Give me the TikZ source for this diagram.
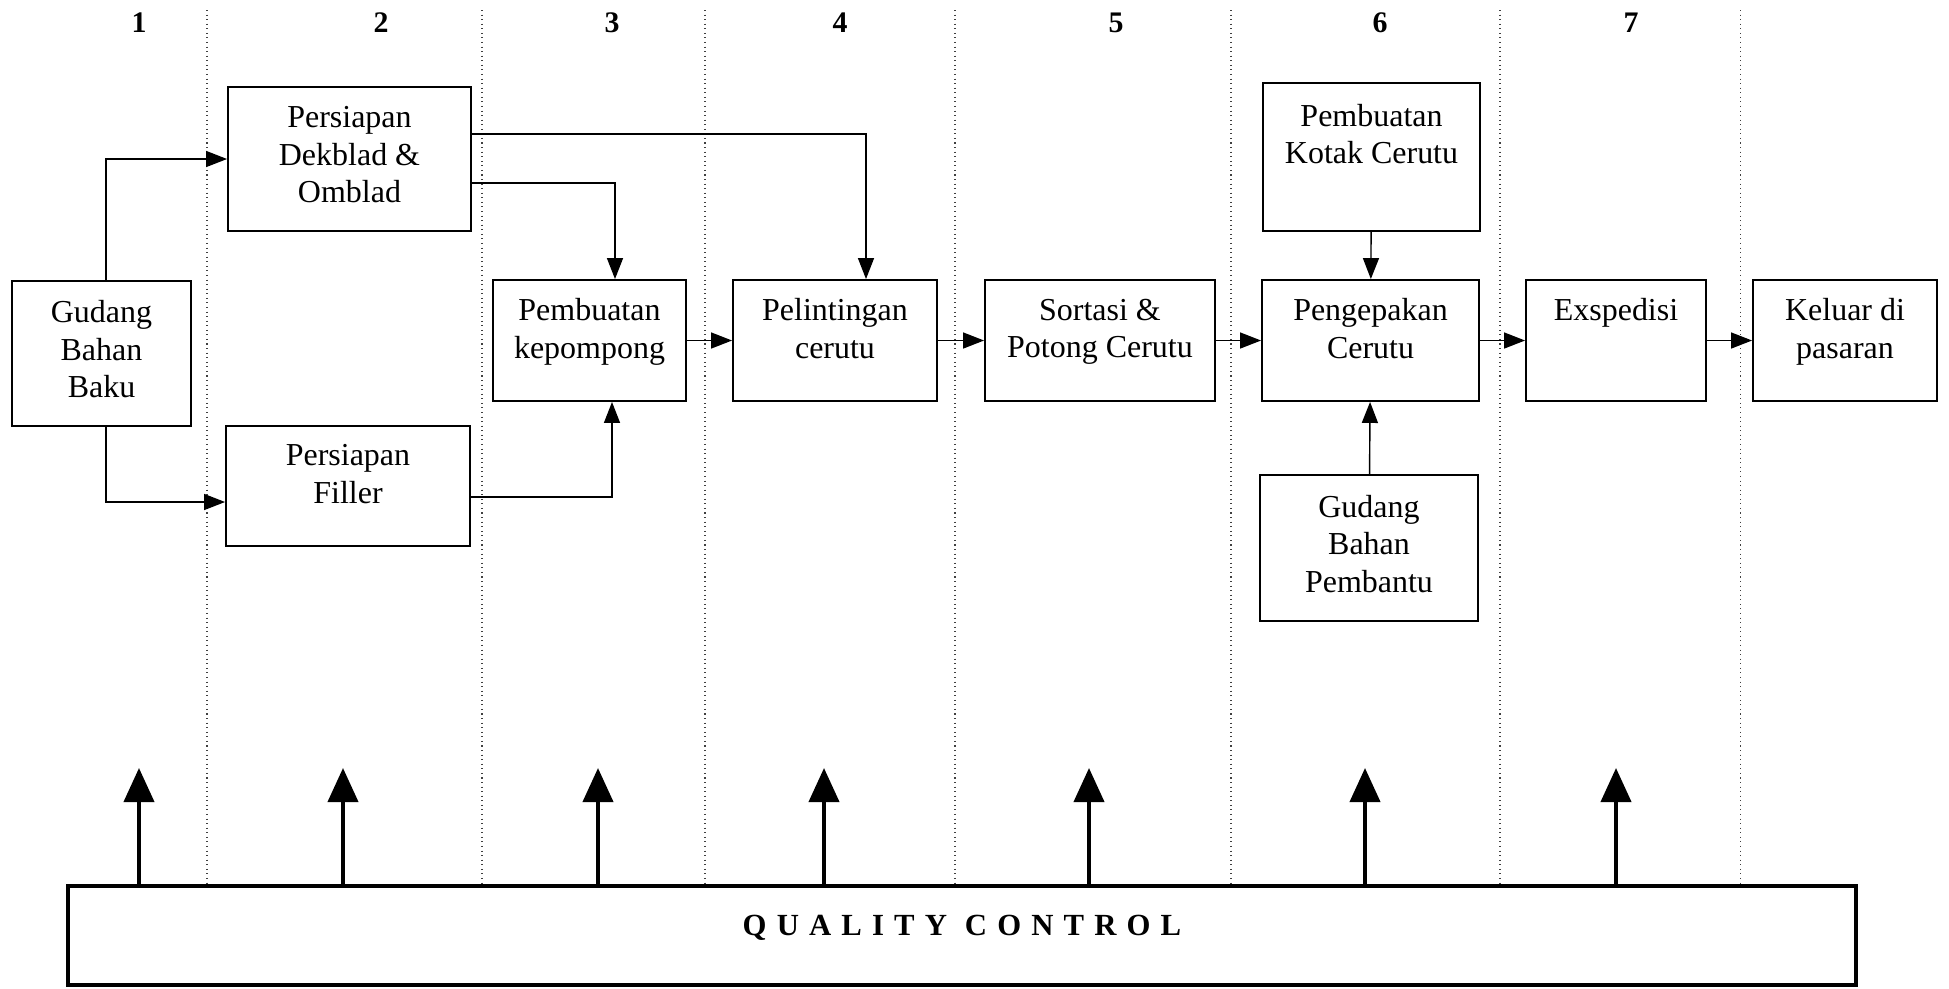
\documentclass[tikz,border=0pt]{standalone}
\usepackage{fontspec}
\setmainfont{Liberation Serif}
\usetikzlibrary{arrows.meta}

\begin{document}
\begin{tikzpicture}[
  x=0.02cm, y=-0.02cm,
  box/.style = {draw, line width=1.1pt, align=center, inner sep=0pt,
    text depth=0.18cm, font=\fontsize{18.2}{21.3}\selectfont},
  pbox/.style = {box, minimum height=2.42cm, text depth=0.48cm},
  arrow/.style = {line width=0.8pt, -{Triangle[length=0.42cm, width=0.32cm]}},
  qcarrow/.style = {line width=2.3pt, -{Triangle[length=0.68cm, width=0.6cm]}},
  sep/.style = {black!75, dotted, line width=0.6pt},
  num/.style = {font=\fontsize{17}{20}\selectfont\bfseries}
]
\useasboundingbox (0,0) rectangle (1949,988);

% Pixel layout (1949 x 988), y grows downwards.
% Main row centre y=340.5, column separators dotted.

% Column separators
\foreach \x in {207,482,705,955,1231,1500,1740}
  \draw [sep] (\x,10) -- (\x,884);

% Column numbers
\foreach \x [count=\i] in {139,381,612,840,1116,1380,1631}
  \node [num] (n\i) at (\x,23) {\i};

% Column 1-2
\node [box, minimum width=3.58cm, minimum height=2.9cm] (gudang) at (101.5,353.5)
  {Gudang\\Bahan\\Baku};
\node [box, minimum width=4.86cm, minimum height=2.88cm] (dekblad) at (349.5,159)
  {Persiapan\\Dekblad \&\\Omblad};
\node [pbox, minimum width=4.88cm, minimum height=2.4cm] (filler) at (348,486)
  {Persiapan\\Filler};

% Main row
\node [pbox, minimum width=3.86cm] (kepompong) at (589.5,340.5)
  {Pembuatan\\kepompong};
\node [pbox, minimum width=4.08cm] (pelintingan) at (835,340.5)
  {Pelintingan\\cerutu};
\node [pbox, minimum width=4.6cm] (sortasi) at (1100,340.5)
  {Sortasi \&\\Potong Cerutu};
\node [pbox, minimum width=4.34cm] (pengepakan) at (1370.5,340.5)
  {Pengepakan\\Cerutu};
\node [pbox, minimum width=3.6cm] (exspedisi) at (1616,340.5)
  {Exspedisi\\~};
\node [pbox, minimum width=3.68cm] (keluar) at (1845,340.5)
  {Keluar di\\pasaran};

% Column 6, above and below
\node [box, minimum width=4.34cm, minimum height=2.96cm] (kotak) at (1371.5,157)
  {Pembuatan\\Kotak Cerutu\\~};
\node [box, minimum width=4.36cm, minimum height=2.92cm] (pembantu) at (1369,548)
  {Gudang\\Bahan\\Pembantu};

% Quality control bar
\node [box, line width=2pt, minimum width=35.76cm, minimum height=1.98cm,
  text depth=0.42cm] (qc) at (962,935.5)
  {\fontsize{17.5}{20}\selectfont\bfseries\addfontfeature{LetterSpace=33}QUALITY CONTROL};

% Arrows — branches
\draw [arrow] ([xshift=0.09cm]gudang.north) |- (dekblad.west);
\draw [arrow] ([xshift=0.09cm]gudang.south) |- ([yshift=-0.32cm]filler.west);
\draw [arrow] ([yshift=0.5cm]dekblad.east) -| ([xshift=0.62cm]pelintingan.north);
\draw [arrow] ([yshift=-0.48cm]dekblad.east) -| ([xshift=0.51cm]kepompong.north);
\draw [arrow] ([yshift=-0.22cm]filler.east) -| ([xshift=0.45cm]kepompong.south);

% Arrows — main row
\draw [arrow] (kepompong) -- (pelintingan);
\draw [arrow] (pelintingan) -- (sortasi);
\draw [arrow] (sortasi) -- (pengepakan);
\draw [arrow] (pengepakan) -- (exspedisi);
\draw [arrow] (exspedisi) -- (keluar);
\draw [arrow] (kotak) -- (pengepakan);
\draw [arrow] (pembantu) -- (pengepakan);

% Arrows — quality control
\foreach \x [count=\i] in {139,343,598,824,1089,1365,1616} {
  \coordinate (q\i) at (\x,768);
  \draw [qcarrow] (q\i |- qc.north) -- (q\i);
}

\end{tikzpicture}
\end{document}
